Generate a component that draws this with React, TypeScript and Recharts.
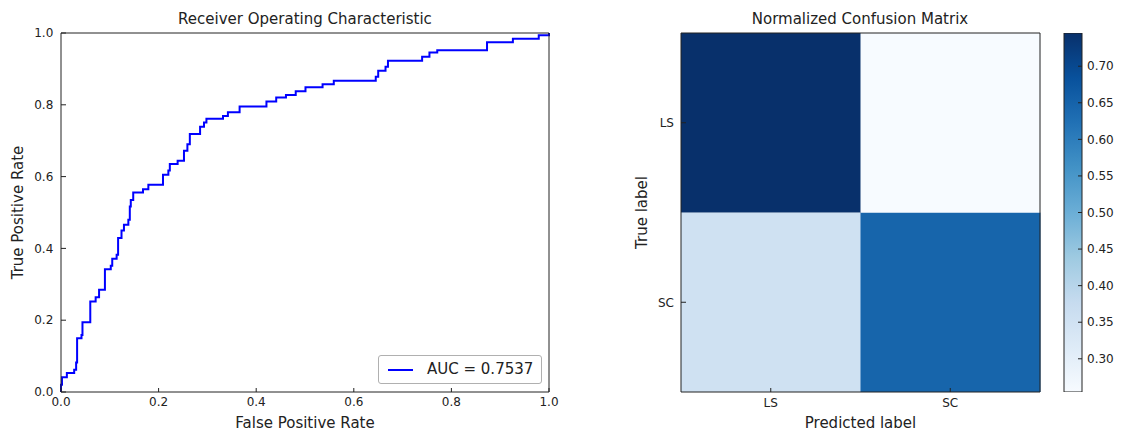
import { Bar, BarChart, Cell, Legend, Line, LineChart, XAxis, YAxis } from "recharts";

// ROC curve corner points (stepAfter): each point is the top of a vertical jump
const rocFpr = [
  0, 0, 0.002, 0.012, 0.027, 0.031, 0.033, 0.042, 0.044, 0.06, 0.071, 0.078, 0.09, 0.102,
  0.105, 0.114, 0.117, 0.124, 0.129, 0.138, 0.141, 0.143, 0.148, 0.168, 0.179, 0.209, 0.22,
  0.223, 0.239, 0.252, 0.259, 0.264, 0.285, 0.293, 0.298, 0.332, 0.342, 0.366, 0.421, 0.441,
  0.461, 0.481, 0.501, 0.536, 0.559, 0.645, 0.65, 0.665, 0.67, 0.74, 0.755, 0.771, 0.873,
  0.926, 0.979, 1.0,
];
const rocTpr = [
  0, 0.02, 0.041, 0.053, 0.062, 0.082, 0.15, 0.159, 0.194, 0.252, 0.264, 0.285, 0.342, 0.352,
  0.371, 0.382, 0.429, 0.45, 0.466, 0.48, 0.517, 0.535, 0.556, 0.565, 0.577, 0.605, 0.617,
  0.635, 0.644, 0.672, 0.69, 0.719, 0.739, 0.751, 0.761, 0.769, 0.779, 0.795, 0.809, 0.82,
  0.827, 0.838, 0.849, 0.857, 0.867, 0.878, 0.895, 0.906, 0.923, 0.934, 0.946, 0.952, 0.974,
  0.984, 0.994, 1.0,
];
const rocTicks = [0, 0.2, 0.4, 0.6, 0.8, 1.0];
const aucLabel = "AUC = 0.7537";

// confusion matrix, rows = true label, columns = predicted label
const cmClasses = ["LS", "SC"];
const cmRowLS = [0.7454, 0.2546];
const cmRowSC = [0.3537, 0.6463];
const cbTicks = [0.3, 0.35, 0.4, 0.45, 0.5, 0.55, 0.6, 0.65, 0.7];

const BLUES = [
  "#f7fbff", "#deebf7", "#c6dbef", "#9ecae1", "#6baed6",
  "#4292c6", "#2171b5", "#08519c", "#08306b",
];

const FONT = "DejaVu Sans, sans-serif";
const INK = "#222";
const tickStyle = { fill: INK, fontSize: 12, fontFamily: FONT };
const labelStyle = { fill: INK, fontSize: 15, fontFamily: FONT };

function hexToRgb(h: string) {
  const n = parseInt(h.slice(1), 16);
  return [(n >> 16) & 255, (n >> 8) & 255, n & 255];
}

function blues(t: number) {
  const c = Math.max(0, Math.min(1, t)) * (BLUES.length - 1);
  const i = Math.min(Math.floor(c), BLUES.length - 2);
  const f = c - i;
  const a = hexToRgb(BLUES[i]);
  const b = hexToRgb(BLUES[i + 1]);
  const m = a.map((v, k) => Math.round(v + (b[k] - v) * f));
  return `rgb(${m[0]},${m[1]},${m[2]})`;
}

const allCm = [...cmRowLS, ...cmRowSC];
const vmin = Math.min(...allCm);
const vmax = Math.max(...allCm);
const norm = (v: number) => (v - vmin) / (vmax - vmin);

const rocData = rocFpr.map((x, i) => ({ fpr: x, tpr: rocTpr[i] }));
const cmData = cmClasses.map((c) => ({ pred: c, SC: 1, LS: 1 }));
const cbData = [{ k: "cb", range: [vmin, vmax] }];

function RocLegend() {
  return (
    <div
      style={{
        width: 162,
        height: 27,
        border: "1px solid #b0b0b0",
        borderRadius: 3,
        background: "#fff",
        position: "relative",
        fontFamily: FONT,
        fontSize: 15,
        color: INK,
      }}
    >
      <div style={{ position: "absolute", left: 9, top: 13, width: 25, height: 2, background: "#0000ff" }} />
      <div style={{ position: "absolute", left: 48, top: 4, whiteSpace: "nowrap", lineHeight: "18px" }}>
        {aucLabel}
      </div>
    </div>
  );
}

function RocChart() {
  return (
    <LineChart width={560} height={433} data={rocData} margin={{ top: 32, right: 10, bottom: 0, left: 0 }}>
      <XAxis
        dataKey="fpr"
        type="number"
        domain={[0, 1]}
        ticks={rocTicks}
        interval={0}
        tickFormatter={(v: number) => v.toFixed(1)}
        height={41}
        tickSize={-4}
        tickMargin={9}
        tick={tickStyle}
        axisLine={{ stroke: INK }}
        tickLine={{ stroke: INK }}
        label={{ value: "False Positive Rate", position: "insideBottom", offset: 5, style: labelStyle }}
      />
      <XAxis
        xAxisId="top"
        orientation="top"
        type="number"
        domain={[0, 1]}
        ticks={rocTicks}
        interval={0}
        height={1}
        tickSize={-4}
        tick={false}
        axisLine={{ stroke: INK }}
        tickLine={{ stroke: INK }}
      />
      <YAxis
        type="number"
        domain={[0, 1]}
        ticks={rocTicks}
        interval={0}
        tickFormatter={(v: number) => v.toFixed(1)}
        width={61}
        tickSize={-5}
        tickMargin={12.7}
        tick={tickStyle}
        axisLine={{ stroke: INK }}
        tickLine={{ stroke: INK }}
        label={{
          value: "True Positive Rate",
          angle: -90,
          position: "insideLeft",
          offset: 18,
          style: { ...labelStyle, textAnchor: "middle" },
        }}
      />
      <YAxis
        yAxisId="right"
        orientation="right"
        type="number"
        domain={[0, 1]}
        ticks={rocTicks}
        interval={0}
        width={1}
        tickSize={-5}
        tick={false}
        axisLine={{ stroke: INK }}
        tickLine={{ stroke: INK }}
      />
      <Line
        type="stepAfter"
        dataKey="tpr"
        name={aucLabel}
        stroke="#0000ff"
        strokeWidth={2}
        dot={false}
        activeDot={false}
        isAnimationActive={false}
      />
      <Legend
        layout="horizontal"
        verticalAlign="middle"
        align="center"
        content={<RocLegend />}
        wrapperStyle={{ left: 378, top: 355, width: "auto", bottom: "auto" }}
      />
    </LineChart>
  );
}

function ConfusionChart() {
  return (
    <BarChart
      width={430}
      height={433}
      data={cmData}
      barCategoryGap={0}
      barGap={0}
      margin={{ top: 32, right: 9, bottom: 0, left: 0 }}
    >
      <XAxis
        dataKey="pred"
        type="category"
        interval={0}
        height={41}
        tickSize={-4}
        tickMargin={10}
        tick={tickStyle}
        axisLine={{ stroke: INK }}
        tickLine={{ stroke: INK }}
        label={{ value: "Predicted label", position: "insideBottom", offset: 5, style: labelStyle }}
      />
      <XAxis
        xAxisId="top"
        dataKey="pred"
        orientation="top"
        type="category"
        interval={0}
        height={1}
        tickSize={-4}
        tick={false}
        axisLine={{ stroke: INK }}
        tickLine={{ stroke: INK }}
      />
      <YAxis
        type="number"
        domain={[0, 2]}
        ticks={[0.5, 1.5]}
        interval={0}
        tickFormatter={(v: number) => (v < 1 ? cmClasses[1] : cmClasses[0])}
        width={61}
        tickSize={-5}
        tickMargin={12}
        tick={tickStyle}
        axisLine={{ stroke: INK }}
        tickLine={{ stroke: INK }}
        label={{
          value: "True label",
          angle: -90,
          position: "insideLeft",
          offset: 22,
          style: { ...labelStyle, textAnchor: "middle" },
        }}
      />
      <YAxis
        yAxisId="right"
        orientation="right"
        type="number"
        domain={[0, 2]}
        ticks={[0.5, 1.5]}
        interval={0}
        width={1}
        tickSize={-5}
        tick={false}
        axisLine={{ stroke: INK }}
        tickLine={{ stroke: INK }}
      />
      <Bar dataKey="SC" stackId="cm" isAnimationActive={false}>
        {cmData.map((d, j) => (
          <Cell key={d.pred} fill={blues(norm(cmRowSC[j]))} />
        ))}
      </Bar>
      <Bar dataKey="LS" stackId="cm" isAnimationActive={false}>
        {cmData.map((d, j) => (
          <Cell key={d.pred} fill={blues(norm(cmRowLS[j]))} />
        ))}
      </Bar>
    </BarChart>
  );
}

function ColorBar() {
  return (
    <BarChart
      width={72}
      height={433}
      data={cbData}
      barCategoryGap={0}
      margin={{ top: 33, right: 0, bottom: 41, left: 14 }}
    >
      <defs>
        <linearGradient id="bluesGrad" x1="0" y1="1" x2="0" y2="0">
          {BLUES.map((c, i) => (
            <stop key={c} offset={`${(i / (BLUES.length - 1)) * 100}%`} stopColor={c} />
          ))}
        </linearGradient>
      </defs>
      <XAxis dataKey="k" type="category" hide />
      <YAxis
        orientation="right"
        type="number"
        domain={[vmin, vmax]}
        ticks={cbTicks}
        interval={0}
        allowDataOverflow
        tickFormatter={(v: number) => v.toFixed(2)}
        width={40}
        tickSize={-4}
        tickMargin={9}
        tick={tickStyle}
        axisLine={false}
        tickLine={{ stroke: INK }}
      />
      <Bar dataKey="range" fill="url(#bluesGrad)" stroke={INK} strokeWidth={1} isAnimationActive={false} />
    </BarChart>
  );
}

const titleStyle: React.CSSProperties = {
  position: "absolute",
  top: 10,
  fontFamily: FONT,
  fontSize: 15,
  color: INK,
  textAlign: "center",
  whiteSpace: "nowrap",
  lineHeight: "18px",
};

export default function App() {
  return (
    <div style={{ position: "absolute", left: 0, top: 0, width: 1124, height: 433, background: "#fff", overflow: "hidden" }}>
      <div style={{ position: "absolute", left: 0, top: 0 }}>
        <RocChart />
      </div>
      <div style={{ ...titleStyle, left: 105, width: 400 }}>Receiver Operating Characteristic</div>
      <div style={{ position: "absolute", left: 620, top: 0 }}>
        <ConfusionChart />
      </div>
      <div style={{ ...titleStyle, left: 660, width: 400 }}>Normalized Confusion Matrix</div>
      <div style={{ position: "absolute", left: 1050, top: 0 }}>
        <ColorBar />
      </div>
    </div>
  );
}
